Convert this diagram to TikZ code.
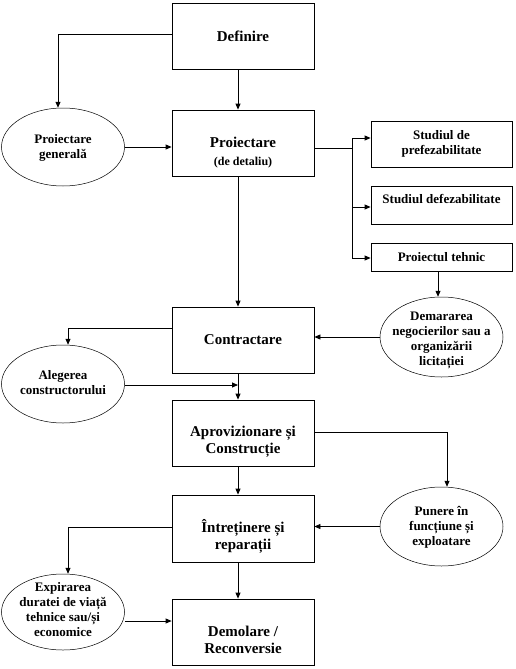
\documentclass[tikz,border=0pt]{standalone}
\usepackage{fontspec}
\setmainfont{Liberation Serif}
\usetikzlibrary{arrows.meta,shapes.geometric}
\begin{document}
\begin{tikzpicture}[x=1pt,y=-1pt,
  box/.style={draw, line width=0.8pt, minimum width=142pt, minimum height=66pt, inner sep=0pt, align=center, font=\fontsize{15}{17}\selectfont\bfseries},
  sbox/.style={draw, line width=0.8pt, minimum width=141pt, inner sep=0pt, align=center, font=\fontsize{13}{15}\selectfont\bfseries},
  oval/.style={draw, ellipse, line width=0.5pt, minimum width=123pt, minimum height=78pt, inner sep=0pt},
  bigtxt/.style={align=center, inner sep=0pt, font=\fontsize{15}{17}\selectfont\bfseries},
  smalltxt/.style={align=center, inner sep=0pt, font=\fontsize{13}{15}\selectfont\bfseries},
  arr/.style={line width=0.8pt, -{Triangle[length=6pt,width=5pt]}},
  ln/.style={line width=0.8pt}]
\useasboundingbox (0,0) rectangle (516,669);
\fill[white] (0,0) rectangle (516,669);
% main column
\node[box] (def) at (243,36) {Definire};
\node[box] (proj) at (243,143) {};
\node[bigtxt] (projT) at (243,153) {Proiectare\\[1pt]{\fontsize{12}{14}\selectfont (de detaliu)}};
\node[box] (contr) at (243,340) {Contractare};
\node[box] (aprov) at (243,433) {};
\node[bigtxt] (aprovT) at (243,442) {Aprovizionare și\\Construcție};
\node[box, minimum height=67pt] (intr) at (243,528.5) {};
\node[bigtxt] (intrT) at (243,536) {Întreținere și\\reparații};
\node[box] (demol) at (243,632) {};
\node[bigtxt] (demolT) at (243,640) {Demolare /\\Reconversie};
% right boxes
\node[sbox, minimum height=46pt] (s1) at (441.5,144) {Studiul de\\prefezabilitate};
\node[sbox, minimum height=38pt] (s2) at (441.5,205) {};
\node[smalltxt] (s2T) at (441.5,199) {Studiul defezabilitate};
\node[sbox, minimum height=28pt] (s3) at (441.5,257) {Proiectul tehnic};
% ellipses
\node[oval] (pg) at (63,147) {};
\node[smalltxt] (pgT) at (63,148) {Proiectare\\generală};
\node[oval, minimum height=80pt] (dem) at (441.5,337) {};
\node[smalltxt] (demT) at (441.5,340) {Demararea\\negocierilor sau a\\organizării\\licitației};
\node[oval] (aleg) at (63,384) {};
\node[smalltxt] (alegT) at (63,383) {Alegerea\\constructorului};
\node[oval, minimum height=79pt] (pun) at (441.5,526.5) {};
\node[smalltxt] (punT) at (441.5,527) {Punere în\\funcțiune și\\exploatare};
\node[oval, minimum height=76pt] (exp) at (63,612) {};
\node[smalltxt] (expT) at (63,610) {Expirarea\\duratei de viață\\tehnice sau/și\\economice};
% helper coordinates
\coordinate (vx) at (238,0);
\coordinate (k1) at (58,34);
\coordinate (br) at (352,148);
\coordinate (b1) at (352,138);
\coordinate (b2) at (352,207);
\coordinate (b3) at (352,258);
\coordinate (k2) at (68,328);
\coordinate (k3) at (238,385);
\coordinate (k4) at (447,432);
\coordinate (k5) at (68,527);
% connectors
\draw[arr] (k1 -| def.west) -- (k1) -- (k1 |- pg.north);
\draw[arr] (def.south -| vx) -- (proj.north -| vx);
\draw[arr] (pg.east) -- (proj.west |- pg.east);
\draw[ln] (br -| proj.east) -- (br);
\draw[ln] (b1) -- (b3);
\draw[arr] (b1) -- (b1 -| s1.west);
\draw[arr] (b2) -- (b2 -| s2.west);
\draw[arr] (b3) -- (b3 -| s3.west);
\draw[arr] (s3.south -| 438,0) -- (dem.north -| 438,0);
\draw[arr] (dem.west) -- (contr.east |- dem.west);
\draw[arr] (k2 -| contr.west) -- (k2) -- (k2 |- aleg.north);
\draw[arr] (proj.south -| vx) -- (contr.north -| vx);
\draw[arr] (contr.south -| vx) -- (aprov.north -| vx);
\draw[arr] (aleg.east |- k3) -- (k3);
\draw[arr] (k4 -| aprov.east) -- (k4) -- (k4 |- pun.north);
\draw[arr] (aprov.south -| vx) -- (intr.north -| vx);
\draw[arr] (pun.west) -- (intr.east |- pun.west);
\draw[arr] (k5 -| intr.west) -- (k5) -- (k5 |- exp.north);
\draw[arr] (intr.south -| vx) -- (demol.north -| vx);
\draw[arr] (exp.east |- 0,621) -- (demol.west |- 0,621);
\end{tikzpicture}
\end{document}
